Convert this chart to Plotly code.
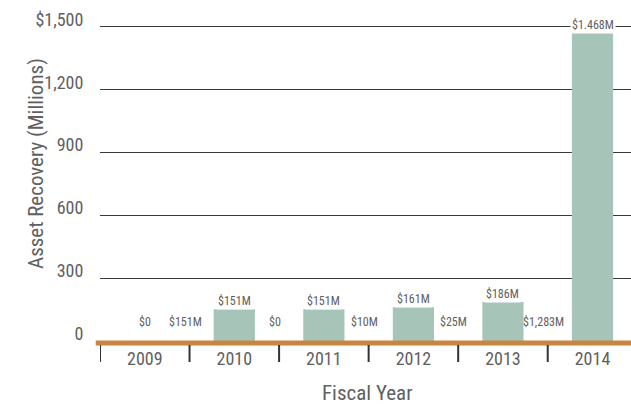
import plotly.graph_objects as go

years = ["2009", "2010", "2011", "2012", "2013", "2014"]
recovery = [0, 151, 151, 161, 186, 1468]
value_labels = ["$0", "$151M", "$151M", "$161M", "$186M", "$1.468M"]
change_labels = ["$151M", "$0", "$10M", "$25M", "$1,283M"]
ytick_vals = [0, 300, 600, 900, 1200, 1500]
ytick_text = ["0", "300", "600", "900", "1,200", "$1,500"]

FONT = "Liberation Sans Narrow, Roboto Condensed, Roboto, sans-serif"
GRAY = "#606060"
PH = 321.0  # plot height in px

fig = go.Figure()
fig.add_trace(go.Bar(
    x=list(range(len(years))), y=recovery,
    marker=dict(color="#a7c4b8", line=dict(width=0)),
    width=0.46, hoverinfo="skip",
))

ann = []
for i, (v, t) in enumerate(zip(recovery, value_labels)):
    if v > 0:
        ann.append(dict(x=i, y=v, xref="x", yref="y", text=t, showarrow=False,
                        yanchor="bottom", yshift=-1, bgcolor="white", borderpad=1,
                        font=dict(family=FONT, size=12, color=GRAY)))
    else:
        ann.append(dict(x=i, y=90, xref="x", yref="y", text=t, showarrow=False,
                        font=dict(family=FONT, size=12, color=GRAY)))
for i, t in enumerate(change_labels):
    ann.append(dict(x=i + 0.45, y=90, xref="x", yref="y", text=t, showarrow=False,
                    font=dict(family=FONT, size=12, color=GRAY)))

ann.append(dict(x=-0.147, y=(341 - 163) / PH, xref="paper", yref="paper",
                text="Asset Recovery (Millions)", textangle=-90, showarrow=False,
                font=dict(family=FONT, size=21, color=GRAY)))
ann.append(dict(x=0.503, y=(341 - 393) / PH, xref="paper", yref="paper", text="Fiscal Year",
                showarrow=False, yanchor="middle",
                font=dict(family=FONT, size=21, color=GRAY)))

shapes = [dict(type="line", xref="paper", yref="paper", x0=-0.008, x1=1.0,
               y0=-2 / PH, y1=-2 / PH, line=dict(color="#c98540", width=5))]
for i in range(len(years)):
    shapes.append(dict(type="line", xref="x", yref="paper", x0=i - 0.5, x1=i - 0.5,
                       y0=-4 / PH, y1=-21 / PH, line=dict(color="#333333", width=2)))

fig.update_layout(
    width=631, height=404,
    margin=dict(l=100, r=0, t=20, b=63),
    paper_bgcolor="white", plot_bgcolor="white",
    showlegend=False,
    annotations=ann, shapes=shapes,
    xaxis=dict(range=[-0.5, 5.43], tickvals=list(range(len(years))), ticktext=years,
               showgrid=False, zeroline=False, showline=False, ticks="",
               ticklabelstandoff=5,
               tickfont=dict(family=FONT, size=18, color=GRAY), fixedrange=True),
    yaxis=dict(range=[0, 1530], tickvals=ytick_vals, ticktext=ytick_text,
               showgrid=True, gridcolor="#3a3a3a", gridwidth=1, zeroline=False,
               showline=False, ticks="outside", ticklen=12, tickcolor="rgba(0,0,0,0)",
               ticklabelshift=-7,
               tickfont=dict(family=FONT, size=18, color=GRAY), fixedrange=True),
)

fig.write_html("out.html")
